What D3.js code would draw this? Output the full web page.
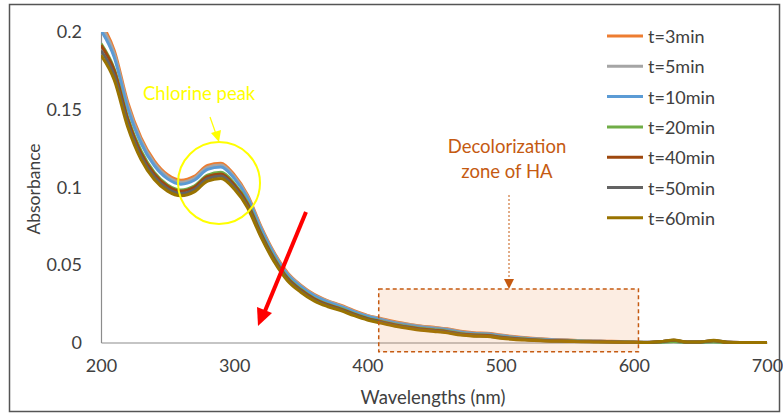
<!DOCTYPE html>
<html>
<head>
<meta charset="utf-8">
<script src="https://cdn.jsdelivr.net/npm/d3@7"></script>
<style>
  html, body { margin: 0; padding: 0; background: #fff; }
  svg { display: block; font-family: Lato, "Open Sans", sans-serif; }
</style>
</head>
<body>
<svg id="chart" width="783" height="414"></svg>
<script>
// Wavelength grid (nm)
const wavelengths = [200,210,220,230,240,250,260,270,280,290,300,310,320,330,340,350,360,370,380,390,400,
  410,420,430,440,450,460,470,480,490,500,510,520,530,540,550,560,570,580,590,600,
  610,620,630,640,650,660,670,680,690,700];

const seriesNames = ["t=3min","t=5min","t=10min","t=20min","t=40min","t=50min","t=60min"];
const seriesColors = ["#ED7D31","#A5A5A5","#5B9BD5","#70AD47","#9E480E","#636363","#997300"];

const absT3 = [.2060,.1880,.1550,.1320,.1170,.1080,.1045,.1070,.1140,.1155,.1080,.0950,.0750,.0580,.0450,.0370,.0310,.0270,.0240,.0205,.0175,
  .0155,.0135,.0120,.0107,.0098,.0088,.0072,.0063,.0060,.0048,.0038,.0030,.0024,.0019,.0016,.0012,.0010,.0008,.0006,.0003,
  .0002,.0004,.0009,.0002,.0003,.0008,.0001,0,0,0];
const absT5 = [.2040,.1860,.1530,.1303,.1155,.1068,.1033,.1058,.1128,.1143,.1069,.0940,.0742,.0573,.0444,.0365,.0305,.0266,.0236,.0201,.0172,
  .0152,.0131,.0117,.0104,.0095,.0085,.0070,.0060,.0057,.0046,.0036,.0028,.0022,.0018,.0015,.0011,.0009,.0007,.0005,.0003,
  .0001,.0003,.0007,.0001,.0002,.0006,.0001,0,0,0];
const absT10 = [.2010,.1835,.1510,.1285,.1140,.1054,.1020,.1045,.1115,.1131,.1057,.0930,.0733,.0565,.0437,.0359,.0300,.0261,.0231,.0197,.0168,
  .0148,.0128,.0113,.0100,.0091,.0082,.0066,.0058,.0055,.0043,.0034,.0026,.0021,.0016,.0014,.0010,.0008,.0007,.0005,.0002,
  .0001,.0003,.0006,.0001,.0002,.0005,.0001,0,0,0];
const absT20 = [.1925,.1760,.1450,.1235,.1095,.1015,.0983,.1008,.1078,.1096,.1025,.0902,.0708,.0545,.0419,.0343,.0285,.0247,.0219,.0186,.0157,
  .0137,.0117,.0103,.0090,.0082,.0073,.0058,.0050,.0047,.0036,.0027,.0021,.0016,.0012,.0011,.0008,.0006,.0005,.0003,.0002,
  0,.0002,.0005,.0001,.0001,.0004,0,0,0,0];
const absT40 = [.1915,.1750,.1440,.1222,.1086,.1007,.0975,.1000,.1070,.1086,.1016,.0893,.0701,.0538,.0414,.0338,.0281,.0243,.0215,.0183,.0154,
  .0134,.0115,.0100,.0087,.0079,.0070,.0055,.0048,.0045,.0034,.0025,.0019,.0015,.0011,.0010,.0007,.0006,.0005,.0003,.0001,
  0,.0005,.0014,.0003,.0003,.0012,.0001,0,0,0];
const absT50 = [.1880,.1720,.1415,.1200,.1068,.0990,.0960,.0985,.1055,.1072,.1002,.0880,.0691,.0529,.0406,.0331,.0274,.0238,.0210,.0178,.0150,
  .0130,.0110,.0096,.0083,.0075,.0066,.0052,.0044,.0041,.0031,.0023,.0017,.0013,.0009,.0008,.0006,.0005,.0004,.0002,.0001,
  0,.0005,.0015,.0003,.0004,.0013,.0002,0,0,0];
const absT60 = [.1850,.1690,.1390,.1180,.1050,.0975,.0945,.0970,.1040,.1057,.0988,.0868,.0680,.0520,.0398,.0324,.0268,.0232,.0205,.0173,.0145,
  .0125,.0106,.0092,.0079,.0071,.0062,.0048,.0041,.0038,.0028,.0020,.0015,.0011,.0008,.0007,.0005,.0004,.0003,.0002,.0001,
  0,.0006,.0016,.0003,.0004,.0014,.0002,0,0,0];

const seriesValues = [absT3, absT5, absT10, absT20, absT40, absT50, absT60];

const xTicks = [200,300,400,500,600,700];
const yTicks = [0,0.05,0.1,0.15,0.2];
const yTickLabels = ["0","0.05","0.1","0.15","0.2"];

const svg = d3.select("#chart");
const plot = {left: 101, right: 767, top: 32, bottom: 342.5};

const x = d3.scaleLinear().domain([200, 700]).range([plot.left, plot.right]);
const y = d3.scaleLinear().domain([0, 0.2]).range([plot.bottom, plot.top]);

const textColor = "#404040";
const axisColor = "#8C8C8C";
const labelSize = "18px";

// Outer frame
svg.append("rect")
  .attr("x", 9.5).attr("y", 4.5).attr("width", 770).attr("height", 407)
  .attr("fill", "#fff").attr("stroke", "#555").attr("stroke-width", 1.5);

// Axes (lines and labels, no tick marks)
const xAxis = svg.append("g").attr("transform", `translate(0,${plot.bottom})`)
  .call(d3.axisBottom(x).tickValues(xTicks).tickSize(0).tickPadding(17));
xAxis.select(".domain").attr("stroke", axisColor).attr("stroke-width", 1.2);
xAxis.selectAll("text").attr("fill", textColor).style("font-size", labelSize).style("font-family", "Lato, sans-serif");

const yAxis = svg.append("g").attr("transform", `translate(${plot.left},0)`)
  .call(d3.axisLeft(y).tickValues(yTicks).tickSize(0).tickPadding(19)
    .tickFormat((d, i) => yTickLabels[i]));
yAxis.select(".domain").attr("stroke", axisColor).attr("stroke-width", 1.2);
yAxis.selectAll("text").attr("fill", textColor).style("font-size", labelSize).style("font-family", "Lato, sans-serif");

// Axis titles
svg.append("text")
  .attr("x", 433).attr("y", 397).attr("text-anchor", "middle").attr("dominant-baseline", "central")
  .attr("fill", textColor).style("font-size", "18.5px").text("Wavelengths (nm)");
svg.append("text")
  .attr("transform", "translate(33,189) rotate(-90)")
  .attr("text-anchor", "middle").attr("dominant-baseline", "central")
  .attr("fill", textColor).style("font-size", "17.5px").text("Absorbance");

// Spectra
svg.append("clipPath").attr("id", "plotClip")
  .append("rect").attr("x", plot.left).attr("y", plot.top)
  .attr("width", plot.right - plot.left + 2).attr("height", plot.bottom - plot.top + 4);

const line = d3.line()
  .x((d, i) => x(wavelengths[i]))
  .y(d => y(d))
  .curve(d3.curveMonotoneX);

const lines = svg.append("g").attr("clip-path", "url(#plotClip)");
seriesValues.forEach((vals, k) => {
  lines.append("path")
    .attr("d", line(vals))
    .attr("fill", "none")
    .attr("stroke", seriesColors[k])
    .attr("stroke-width", 3)
    .attr("stroke-linejoin", "round");
});

// Decolorization zone box
const zone = {w0: 408.5, w1: 603.5, v0: -0.006, v1: 0.0345};
svg.append("rect")
  .attr("x", x(zone.w0)).attr("y", y(zone.v1))
  .attr("width", x(zone.w1) - x(zone.w0)).attr("height", y(zone.v0) - y(zone.v1))
  .attr("fill", "#ED7D31").attr("fill-opacity", 0.14)
  .attr("stroke", "#C55A11").attr("stroke-width", 1.5).attr("stroke-dasharray", "4,3");

// Decolorization label and dotted arrow
const zoneColor = "#C55A11";
const zoneLabel = svg.append("text").attr("text-anchor", "middle").attr("fill", zoneColor)
  .style("font-size", "18.5px");
zoneLabel.append("tspan").attr("x", 507).attr("y", 153).text("Decolorization");
zoneLabel.append("tspan").attr("x", 507).attr("y", 178).text("zone of HA");

svg.append("line")
  .attr("x1", 509).attr("y1", 195).attr("x2", 509).attr("y2", 280)
  .attr("stroke", zoneColor).attr("stroke-width", 1).attr("stroke-dasharray", "2,2");
svg.append("path")
  .attr("d", "M504,279 L514,279 L509,289 Z").attr("fill", zoneColor);

// Chlorine peak callout
const yellow = "#FFFF00";
svg.append("text")
  .attr("x", 143).attr("y", 99.5).attr("fill", yellow).style("font-size", "18.5px").text("Chlorine peak");
svg.append("circle")
  .attr("cx", 219).attr("cy", 183).attr("r", 41)
  .attr("fill", "none").attr("stroke", yellow).attr("stroke-width", 2);
svg.append("line")
  .attr("x1", 210).attr("y1", 117).attr("x2", 216).attr("y2", 134)
  .attr("stroke", yellow).attr("stroke-width", 1.2);
svg.append("path")
  .attr("d", "M211,133 L221,130 L219,142 Z").attr("fill", yellow);

// Decreasing-trend arrow
svg.append("line")
  .attr("x1", 306).attr("y1", 212).attr("x2", 265).attr("y2", 311)
  .attr("stroke", "#FF0000").attr("stroke-width", 4);
svg.append("path")
  .attr("d", "M258,326 L257,307 L272,313 Z").attr("fill", "#FF0000");

// Legend
const legend = svg.append("g");
seriesNames.forEach((name, i) => {
  const ly = 36 + i * 30.3;
  legend.append("line")
    .attr("x1", 607).attr("x2", 643).attr("y1", ly).attr("y2", ly)
    .attr("stroke", seriesColors[i]).attr("stroke-width", 3);
  legend.append("text")
    .attr("x", 648).attr("y", ly).attr("dominant-baseline", "central")
    .attr("fill", textColor).style("font-size", labelSize).text(name);
});
</script>
</body>
</html>
